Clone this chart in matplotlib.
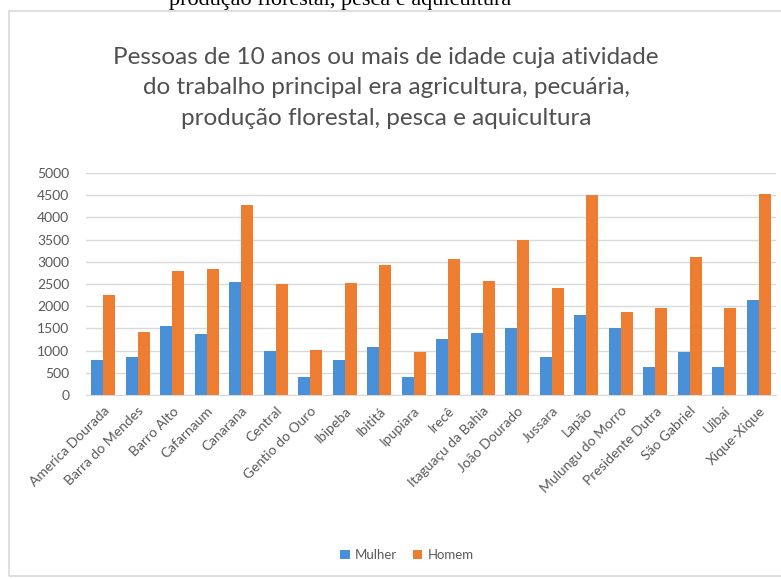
import numpy as np
import matplotlib.pyplot as plt
from matplotlib.patches import Rectangle

# Municípios e número de pessoas ocupadas no setor agropecuário
municipios = ["America Dourada", "Barra do Mendes", "Barro Alto", "Cafarnaum",
              "Canarana", "Central", "Gentio do Ouro", "Ibipeba", "Ibititá",
              "Ipupiara", "Irecê", "Itaguaçu da Bahia", "João Dourado", "Jussara",
              "Lapão", "Mulungu do Morro", "Presidente Dutra", "São Gabriel",
              "Uibaí", "Xique-Xique"]
mulher = [790, 860, 1560, 1380, 2540, 990, 410, 790, 1090,
          410, 1260, 1390, 1520, 860, 1800, 1520, 640, 960, 640, 2140]
homem = [2250, 1410, 2800, 2830, 4280, 2500, 1010, 2520, 2930,
         960, 3070, 2560, 3490, 2420, 4510, 1880, 1970, 3100, 1970, 4530]
yticks = list(range(0, 5001, 500))

W, H = 781, 579
fig = plt.figure(figsize=(W / 100, H / 100), dpi=100)
fig.patch.set_facecolor("white")

# moldura do gráfico
fig.patches.append(Rectangle((9 / W, 1 - 576 / H), 1.0, (576 - 11) / H,
                             transform=fig.transFigure, fill=False,
                             edgecolor="#d9d9d9", linewidth=1.2))

# texto do documento cortado no topo
fig.text(340 / W, 1 - 5 / H, "produção florestal, pesca e aquicultura",
         family="Liberation Serif", fontsize=16, ha="center", va="baseline",
         color="black")

titulo = ("Pessoas de 10 anos ou mais de idade cuja atividade\n"
          "do trabalho principal era agricultura, pecuária,\n"
          "produção florestal, pesca e aquicultura")
fig.text(386 / W, 1 - 88 / H, titulo, family="Lato", fontsize=17.5,
         ha="center", va="center", color="#505050", linespacing=1.55)

ax = fig.add_axes([86 / W, 1 - 395 / H, (776 - 86) / W, (395 - 173) / H])
x = np.arange(len(municipios))
w = 0.35
ax.bar(x - w / 2, mulher, w, color="#4a90d9", label="Mulher", zorder=3)
ax.bar(x + w / 2, homem, w, color="#ed7d31", label="Homem", zorder=3)

ax.set_xlim(-0.5, len(municipios) - 0.5)
ax.set_ylim(0, 5000)
ax.set_yticks(yticks)
ax.yaxis.grid(True, color="#d9d9d9", linewidth=1, zorder=0)
ax.tick_params(axis="y", length=0, pad=12, labelsize=10, labelcolor="#595959")
ax.tick_params(axis="x", length=0, pad=7, labelsize=10, labelcolor="#595959")
ax.set_xticks(x)
ax.set_xticklabels(municipios, rotation=45, ha="right", rotation_mode="anchor")
for lbl in ax.get_xticklabels() + ax.get_yticklabels():
    lbl.set_family("Lato")
for s in ["top", "right", "left"]:
    ax.spines[s].set_visible(False)
ax.spines["bottom"].set_color("#d9d9d9")

fig.legend(loc="center", bbox_to_anchor=(407 / W, 1 - 555 / H), ncol=2,
           frameon=False, prop={"family": "Lato", "size": 9.5},
           handlelength=0.7, handleheight=0.7, handletextpad=0.4,
           columnspacing=1.2, labelcolor="#595959")

fig.savefig("out.png", dpi=100, facecolor="white")
